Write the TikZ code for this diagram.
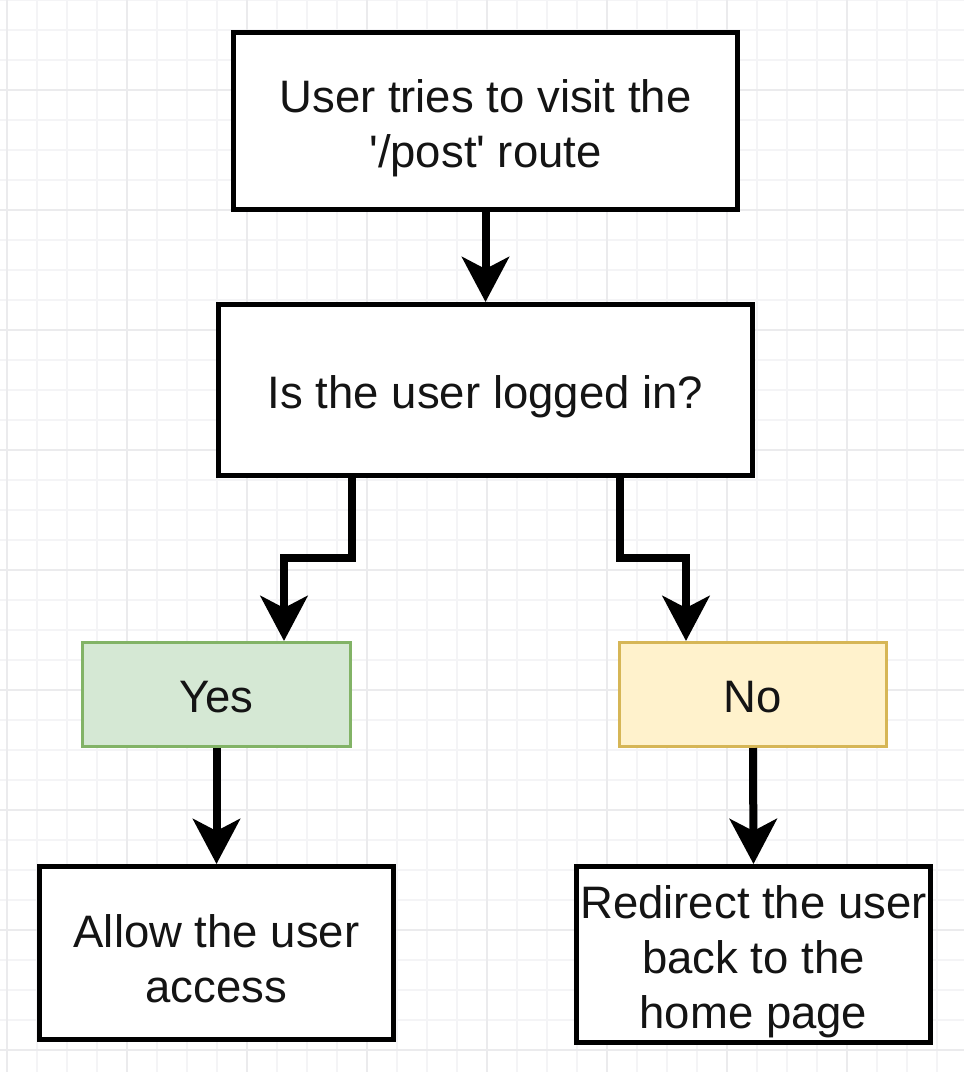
\documentclass[tikz,border=0pt]{standalone}
\usepackage{fontspec}
\setmainfont{Liberation Sans}
\usetikzlibrary{arrows.meta}
\definecolor{gridminor}{HTML}{F4F4F6}
\definecolor{gridmajor}{HTML}{EBEBED}
\definecolor{yesfill}{HTML}{D5E8D4}
\definecolor{yesline}{HTML}{82B366}
\definecolor{nofill}{HTML}{FFF2CC}
\definecolor{noline}{HTML}{D6B656}
\definecolor{ink}{HTML}{141414}
\newcommand{\dropstrut}{\rule{0pt}{47pt}}
\begin{document}
\begin{tikzpicture}[x=1pt,y=-1pt,
  box/.style={draw=black,line width=5pt,fill=white,align=center,text=ink,
    font=\fontsize{45.5}{55}\selectfont,inner sep=0pt},
  yesbox/.style={draw=yesline,line width=3pt,fill=yesfill,align=center,text=ink,
    font=\fontsize{45.5}{55}\selectfont,inner sep=0pt},
  nobox/.style={draw=noline,line width=3pt,fill=nofill,align=center,text=ink,
    font=\fontsize{45.5}{55}\selectfont,inner sep=0pt},
  arr/.style={draw=black,line width=8pt,-{Stealth[length=45pt,width=47pt,inset=12pt]}}]
\useasboundingbox (0,0) rectangle (964,1072);
\fill[white] (0,0) rectangle (964,1072);
% grid
\foreach \x in {7,37,...,967} \draw[gridminor,line width=1.2pt] (\x,0) -- (\x,1072);
\foreach \y in {0,30,...,1080} \draw[gridminor,line width=1.2pt] (0,\y) -- (964,\y);
\foreach \x in {7,127,...,967} \draw[gridmajor,line width=1.4pt] (\x,0) -- (\x,1072);
\foreach \y in {90,210,...,1080} \draw[gridmajor,line width=1.4pt] (0,\y) -- (964,\y);
% nodes
\node[box,minimum width=504pt,minimum height=177pt] (visit) at (485.5,121)
  {\dropstrut User tries to visit the\\\textquotesingle/post\textquotesingle{} route};
\node[box,minimum width=534pt,minimum height=171pt] (logged) at (485.5,390)
  {\dropstrut Is the user logged in?};
\node[yesbox,minimum width=268pt,minimum height=104pt] (yes) at (216.5,694.5)
  {\rule{0pt}{37pt}Yes};
\node[nobox,minimum width=267pt,minimum height=104pt] (no) at (753,694.5)
  {\rule{0pt}{37pt}No};
\node[box,minimum width=354pt,minimum height=173pt] (allow) at (216.5,953)
  {\rule{0pt}{45pt}Allow the user\\access};
\node[box,minimum width=354pt,minimum height=176pt] (redirect) at (753.5,954.5)
  {\rule{0pt}{47pt}Redirect the user\\back to the\\home page};
% connectors
\draw[arr] (visit.south) -- (logged.north);
\draw[arr] ([xshift=-133.5pt]logged.south) -- ++(0,80) -| ([xshift=67.5pt]yes.north);
\draw[arr] ([xshift=134.5pt]logged.south) -- ++(0,80) -| ([xshift=-67pt]no.north);
\draw[arr] (yes.south) -- (allow.north);
\draw[arr] (no.south) -- (redirect.north);
\end{tikzpicture}
\end{document}
